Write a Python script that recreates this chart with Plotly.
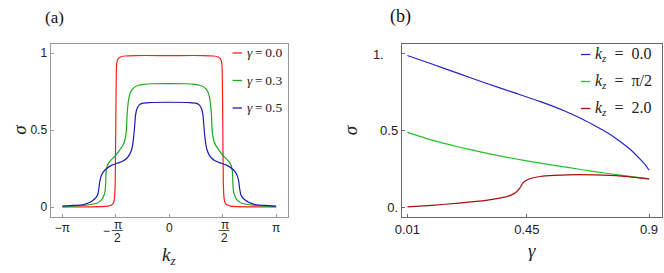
import plotly.graph_objects as go

# ---------------- Panel (a): sigma vs k_z ----------------
PI = 3.14159265
kz_red = [-PI, -2.4, -2.0, -1.8, -1.7, -1.64, -1.61, -1.59, -1.58, -1.57, -1.56, -1.55, -1.53, -1.5, -1.42, -1.3, -1.0, 0.0,
          1.0, 1.3, 1.42, 1.5, 1.53, 1.55, 1.56, 1.57, 1.58, 1.59, 1.61, 1.64, 1.7, 1.8, 2.0, 2.4, PI]
sig_red = [0.002, 0.003, 0.004, 0.008, 0.015, 0.03, 0.06, 0.15, 0.35, 0.6, 0.82, 0.92, 0.95, 0.965, 0.977, 0.982, 0.985, 0.985,
           0.985, 0.982, 0.977, 0.965, 0.95, 0.92, 0.82, 0.6, 0.35, 0.15, 0.06, 0.03, 0.015, 0.008, 0.004, 0.003, 0.002]

kz_green = [-PI, -2.8, -2.52, -2.3, -2.13, -2.03, -1.96, -1.92, -1.89, -1.87, -1.86, -1.84, -1.79, -1.7, -1.6, -1.48, -1.36,
            -1.3, -1.26, -1.24, -1.2, -1.16, -1.1, -1.02, -0.9, -0.75, -0.5, 0.0,
            0.5, 0.75, 0.9, 1.02, 1.1, 1.16, 1.2, 1.24, 1.26, 1.3, 1.36, 1.48, 1.6, 1.7, 1.79, 1.84, 1.86, 1.87,
            1.89, 1.92, 1.96, 2.03, 2.13, 2.3, 2.52, 2.8, PI]
sig_green = [0.004, 0.007, 0.013, 0.018, 0.026, 0.04, 0.058, 0.078, 0.10, 0.15, 0.22, 0.255, 0.285, 0.31, 0.33, 0.365, 0.405,
             0.44, 0.50, 0.60, 0.69, 0.735, 0.762, 0.78, 0.792, 0.798, 0.802, 0.803,
             0.802, 0.798, 0.792, 0.78, 0.762, 0.735, 0.69, 0.60, 0.50, 0.44, 0.405, 0.365, 0.33, 0.31, 0.285, 0.255,
             0.22, 0.15, 0.10, 0.078, 0.058, 0.04, 0.026, 0.018, 0.013, 0.007, 0.004]

kz_blue = [-PI, -2.8, -2.52, -2.33, -2.23, -2.15, -2.1, -2.07, -2.04, -1.99, -1.89, -1.7, -1.5, -1.36, -1.24, -1.16, -1.1,
           -1.07, -1.04, -1.02, -0.99, -0.95, -0.88, -0.78, -0.6, 0.0,
           0.6, 0.78, 0.88, 0.95, 0.99, 1.02, 1.04, 1.07, 1.1, 1.16, 1.24, 1.36, 1.5, 1.7, 1.89, 1.99, 2.04, 2.07,
           2.1, 2.15, 2.23, 2.33, 2.52, 2.8, PI]
sig_blue = [0.008, 0.012, 0.018, 0.033, 0.047, 0.065, 0.085, 0.12, 0.17, 0.21, 0.242, 0.272, 0.288, 0.30, 0.32, 0.345, 0.38,
            0.415, 0.47, 0.52, 0.60, 0.64, 0.665, 0.676, 0.68, 0.682,
            0.68, 0.676, 0.665, 0.64, 0.60, 0.52, 0.47, 0.415, 0.38, 0.345, 0.32, 0.30, 0.288, 0.272, 0.242, 0.21,
            0.17, 0.12, 0.085, 0.065, 0.047, 0.033, 0.018, 0.012, 0.008]

# ---------------- Panel (b): sigma vs gamma ----------------
g_blue = [0.01, 0.1, 0.2, 0.3, 0.4, 0.5, 0.587, 0.65, 0.709, 0.75, 0.782, 0.83, 0.866, 0.885, 0.9]
s_blue = [0.99, 0.935, 0.872, 0.81, 0.75, 0.69, 0.631, 0.58, 0.525, 0.484, 0.445, 0.38, 0.318, 0.282, 0.245]

g_green = [0.01, 0.1, 0.2, 0.3, 0.4, 0.5, 0.6, 0.7, 0.8, 0.9]
s_green = [0.49, 0.44, 0.395, 0.355, 0.32, 0.29, 0.262, 0.235, 0.21, 0.187]

g_red = [0.01, 0.1, 0.2, 0.3, 0.35, 0.39, 0.41, 0.425, 0.435, 0.45, 0.47, 0.5, 0.55, 0.6, 0.7, 0.8, 0.9]
s_red = [0.005, 0.015, 0.03, 0.048, 0.062, 0.08, 0.1, 0.13, 0.16, 0.18, 0.193, 0.203, 0.21, 0.214, 0.213, 0.205, 0.187]

xa_ticks = [-PI, -PI / 2, 0, PI / 2, PI]
xa_text = ["\u2212\u03c0", "\u2009", "0", "\u2009", "\u03c0"]
frac_ticks = [-PI / 2, PI / 2]
ya_ticks = [0, 0.5, 1]
ya_text = ["0", "0.5", "1"]
xb_ticks = [0.01, 0.45, 0.9]
xb_text = ["0.01", "0.45", "0.9"]
yb_ticks = [0, 0.5, 1]
yb_text = ["0.", "0.5", "1.\u2007\u2007"]

legend_a = ["0.0", "0.3", "0.5"]
legend_b = ["0.0", "\u03c0/2", "2.0"]

col_a = ["#ff1c1c", "#1ca81c", "#1c1cb0"]
col_b = ["#2424c8", "#28c028", "#a51010"]

W, H = 664, 273
fig = go.Figure()

for xs, ys, c, v in [(kz_red, sig_red, col_a[0], legend_a[0]),
                     (kz_green, sig_green, col_a[1], legend_a[1]),
                     (kz_blue, sig_blue, col_a[2], legend_a[2])]:
    fig.add_trace(go.Scatter(x=xs, y=ys, mode="lines", name="\u03b3 = " + v, showlegend=False,
                             line=dict(color=c, width=1.2, shape="spline", smoothing=0.6),
                             xaxis="x", yaxis="y"))

for xs, ys, c, v in [(g_blue, s_blue, col_b[0], legend_b[0]),
                     (g_green, s_green, col_b[1], legend_b[1]),
                     (g_red, s_red, col_b[2], legend_b[2])]:
    fig.add_trace(go.Scatter(x=xs, y=ys, mode="lines", name="k_z = " + v, showlegend=False,
                             line=dict(color=c, width=1.2, shape="spline", smoothing=0.6),
                             xaxis="x2", yaxis="y2"))

tickfont = dict(family="Liberation Sans, Arial, sans-serif", size=12, color="#222")
tickfont_b = dict(family="Liberation Sans, Arial, sans-serif", size=13, color="#222")
serif = "Liberation Serif, Times New Roman, serif"


def px_x(p):
    return p / W


def px_y(p):
    return 1 - p / H


common = dict(showgrid=False, zeroline=False, showline=True, mirror=True, ticks="inside",
              ticklen=3, tickwidth=1, tickmode="array")

fig.update_layout(
    width=W, height=H, margin=dict(l=0, r=0, t=0, b=0),
    paper_bgcolor="white", plot_bgcolor="white",
    xaxis=dict(domain=[px_x(44), px_x(284)], range=[-3.49, 3.49], tickvals=xa_ticks, ticktext=xa_text,
               linecolor="#9a9a9a", tickcolor="#9a9a9a", anchor="y", tickfont=tickfont, **common),
    yaxis=dict(domain=[px_y(217), px_y(44)], range=[-0.063, 1.06], tickvals=ya_ticks, ticktext=ya_text,
               linecolor="#9a9a9a", tickcolor="#9a9a9a", anchor="x", tickfont=tickfont, **common),
    xaxis2=dict(domain=[px_x(399), px_x(661.5)], range=[-0.0107, 0.946], tickvals=xb_ticks, ticktext=xb_text,
                linecolor="#666666", tickcolor="#666666", anchor="y2", tickfont=tickfont_b, **common),
    yaxis2=dict(domain=[px_y(217), px_y(44)], range=[-0.0605, 1.065], tickvals=yb_ticks, ticktext=yb_text,
                linecolor="#666666", tickcolor="#666666", anchor="x2", tickfont=tickfont_b, **common),
)

tfont = dict(family=serif, size=19, color="#222")
annotations = []
# axis titles
annotations.append(dict(x=px_x(164), y=px_y(256), xref="paper", yref="paper", text="<i>k</i><sub><i>z</i></sub>",
                        showarrow=False, xanchor="center", yanchor="middle", font=tfont))
annotations.append(dict(x=px_x(531), y=px_y(250), xref="paper", yref="paper", text="<i>\u03b3</i>",
                        showarrow=False, xanchor="center", yanchor="middle", font=tfont))
annotations.append(dict(x=px_x(12), y=px_y(130), xref="paper", yref="paper", text="<i>\u03c3</i>",
                        showarrow=False, xanchor="center", yanchor="middle", textangle=-90, font=tfont))
annotations.append(dict(x=px_x(347), y=px_y(130), xref="paper", yref="paper", text="<i>\u03c3</i>",
                        showarrow=False, xanchor="center", yanchor="middle", textangle=-90, font=tfont))
# panel labels
annotations.append(dict(x=px_x(36), y=px_y(18), xref="paper", yref="paper", text="(a)", showarrow=False,
                        xanchor="left", yanchor="middle", font=dict(family=serif, size=17, color="#111")))
annotations.append(dict(x=px_x(385), y=px_y(16), xref="paper", yref="paper", text="(b)", showarrow=False,
                        xanchor="left", yanchor="middle", font=dict(family=serif, size=18, color="#111")))

# legends (a): short line sample + label
for i, (v, c) in enumerate(zip(legend_a, col_a)):
    yy = 53 + 27.5 * i
    fig.add_shape(type="line", xref="paper", yref="paper", x0=px_x(228), x1=px_x(237.5),
                  y0=px_y(yy), y1=px_y(yy), line=dict(color=c, width=1.3))
    txt = "<i>\u03b3</i>\u2009=\u2009%s" % v
    annotations.append(dict(x=px_x(241), y=px_y(yy), xref="paper", yref="paper", text=txt,
                            showarrow=False, xanchor="left", yanchor="middle",
                            font=dict(family=serif, size=13.5, color="#222")))
# legends (b)
for i, (v, c) in enumerate(zip(legend_b, col_b)):
    yy = 54.5 + 27 * i
    fig.add_shape(type="line", xref="paper", yref="paper", x0=px_x(580), x1=px_x(589.5),
                  y0=px_y(yy), y1=px_y(yy), line=dict(color=c, width=1.3))
    txt = "<i>k</i><sub><i>z</i></sub>\u2002=\u2002%s" % v
    annotations.append(dict(x=px_x(592), y=px_y(yy), xref="paper", yref="paper", text=txt,
                            showarrow=False, xanchor="left", yanchor="middle",
                            font=dict(family=serif, size=16, color="#222")))

# fraction tick labels for +/- pi/2
for xv in frac_ticks:
    annotations.append(dict(x=xv, y=px_y(224.5), xref="x", yref="paper", text="\u03c0", showarrow=False,
                            xanchor="center", yanchor="middle", xshift=2, font=tickfont))
    annotations.append(dict(x=xv, y=px_y(237.5), xref="x", yref="paper", text="2", showarrow=False,
                            xanchor="center", yanchor="middle", xshift=2, font=tickfont))
    fig.add_shape(type="line", xref="x", yref="paper", x0=xv - 0.12, x1=xv + 0.2,
                  y0=px_y(230.5), y1=px_y(230.5), line=dict(color="#222", width=0.8))
annotations.append(dict(x=-PI / 2, y=px_y(230.5), xref="x", yref="paper", text="\u2212", showarrow=False,
                        xanchor="right", yanchor="middle", xshift=-4, font=tickfont))
fig.update_layout(annotations=annotations)

fig.write_html("out.html", post_script="document.body.style.margin='0';",
               config={"displayModeBar": False})
